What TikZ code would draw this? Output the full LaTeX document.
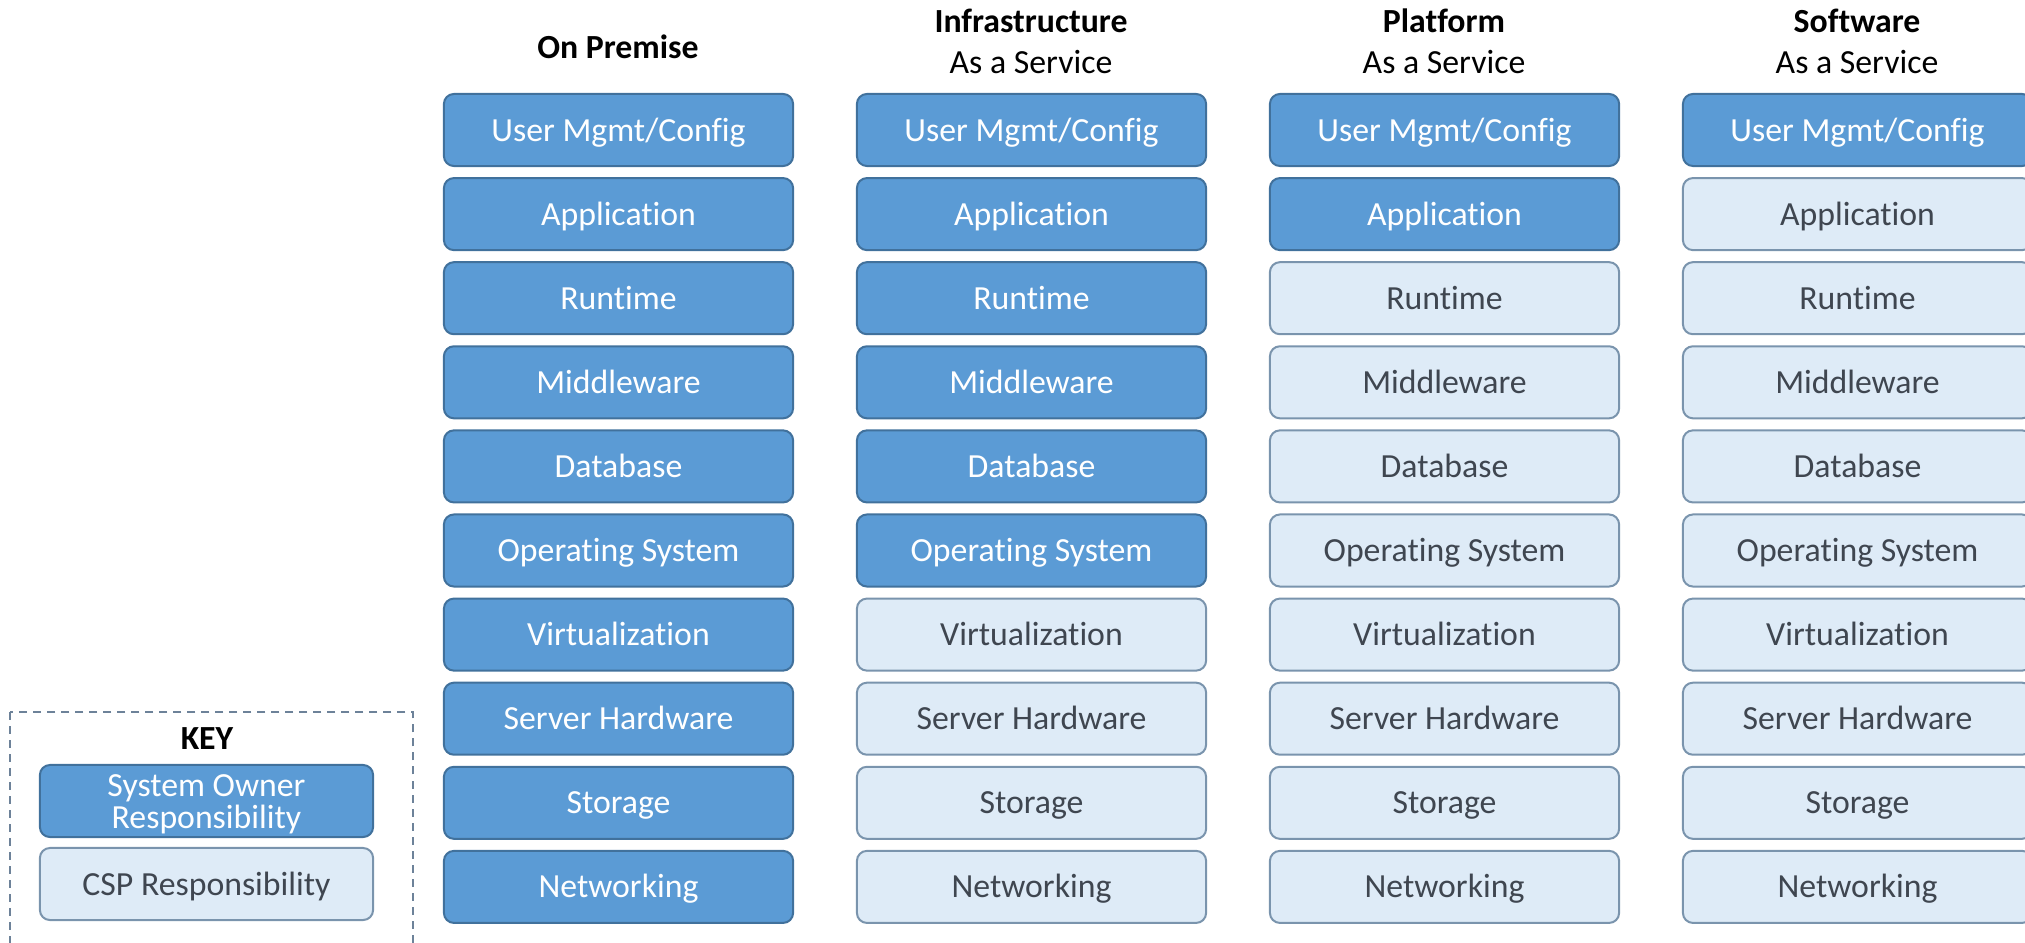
\documentclass[tikz,border=0pt]{standalone}
\usepackage{fontspec}
\setmainfont{Carlito}[Ligatures=NoCommon]
\usepackage{tikz}

\definecolor{ownerfill}{HTML}{5B9BD5}
\definecolor{ownerline}{HTML}{41719C}
\definecolor{cspfill}{HTML}{DEEBF7}
\definecolor{cspline}{HTML}{7A94AD}
\definecolor{csptext}{HTML}{3F4650}
\definecolor{keyline}{HTML}{6D8299}

\begin{document}
\begin{tikzpicture}[x=0.01cm,y=-0.01cm,
        layer/.style={rectangle,rounded corners=0.1cm,line width=0.02cm,
            minimum width=3.49cm,minimum height=0.72cm,inner sep=0pt,
            text height=0.22cm,text depth=0cm,
            font=\fontsize{9.6}{11.5}\selectfont},
        owner/.style={layer,fill=ownerfill,draw=ownerline,text=white},
        csp/.style={layer,fill=cspfill,draw=cspline,text=csptext},
        head/.style={align=center,font=\fontsize{9.6}{11.7}\selectfont}]
        \useasboundingbox (0,0) rectangle (2025,943);
        \clip (0,0) rectangle (2025,943);
        % column headings
        \node[head] (hprem) at (618,47) {\textbf{On Premise}};
        \node[head] (hiaas) at (1031,41) {\textbf{Infrastructure}\\As a Service};
        \node[head] (hpaas) at (1444,41) {\textbf{Platform}\\As a Service};
        \node[head] (hsaas) at (1857,41) {\textbf{Software}\\As a Service};
        % the stacks
        \foreach \col/\lim [count=\c from 0] in {prem/10,iaas/6,paas/2,saas/1}{
            \foreach \lay [count=\r from 0] in {User Mgmt/Config,Application,Runtime,Middleware,Database,Operating System,Virtualization,Server Hardware,Storage,Networking}{
                \ifnum\r<\lim
                    \node[owner] (\col\r) at (618.5+413*\c,130+84.1*\r) {\lay};
                \else
                    \node[csp] (\col\r) at (618.5+413*\c,130+84.1*\r) {\lay};
                \fi
            }
        }
        % key
        \draw[keyline,line width=0.015cm,dash pattern=on 0.08cm off 0.06cm] (10,712) rectangle (413,990);
        \node[font=\fontsize{9.6}{11.5}\selectfont\bfseries] (keytitle) at (207,739) {KEY};
        \node[owner,minimum width=3.33cm,text height=,text depth=,align=center,
            font=\fontsize{9.6}{8}\selectfont] (keyowner) at (206.5,801) {};
        \node[text=white,align=center,font=\fontsize{9.6}{8.2}\selectfont] (keyownertext) at (206.5,804) {System Owner\\Responsibility};
        \node[csp,minimum width=3.33cm] (keycsp) at (206.5,884) {CSP Responsibility};
    \end{tikzpicture}
\end{document}
